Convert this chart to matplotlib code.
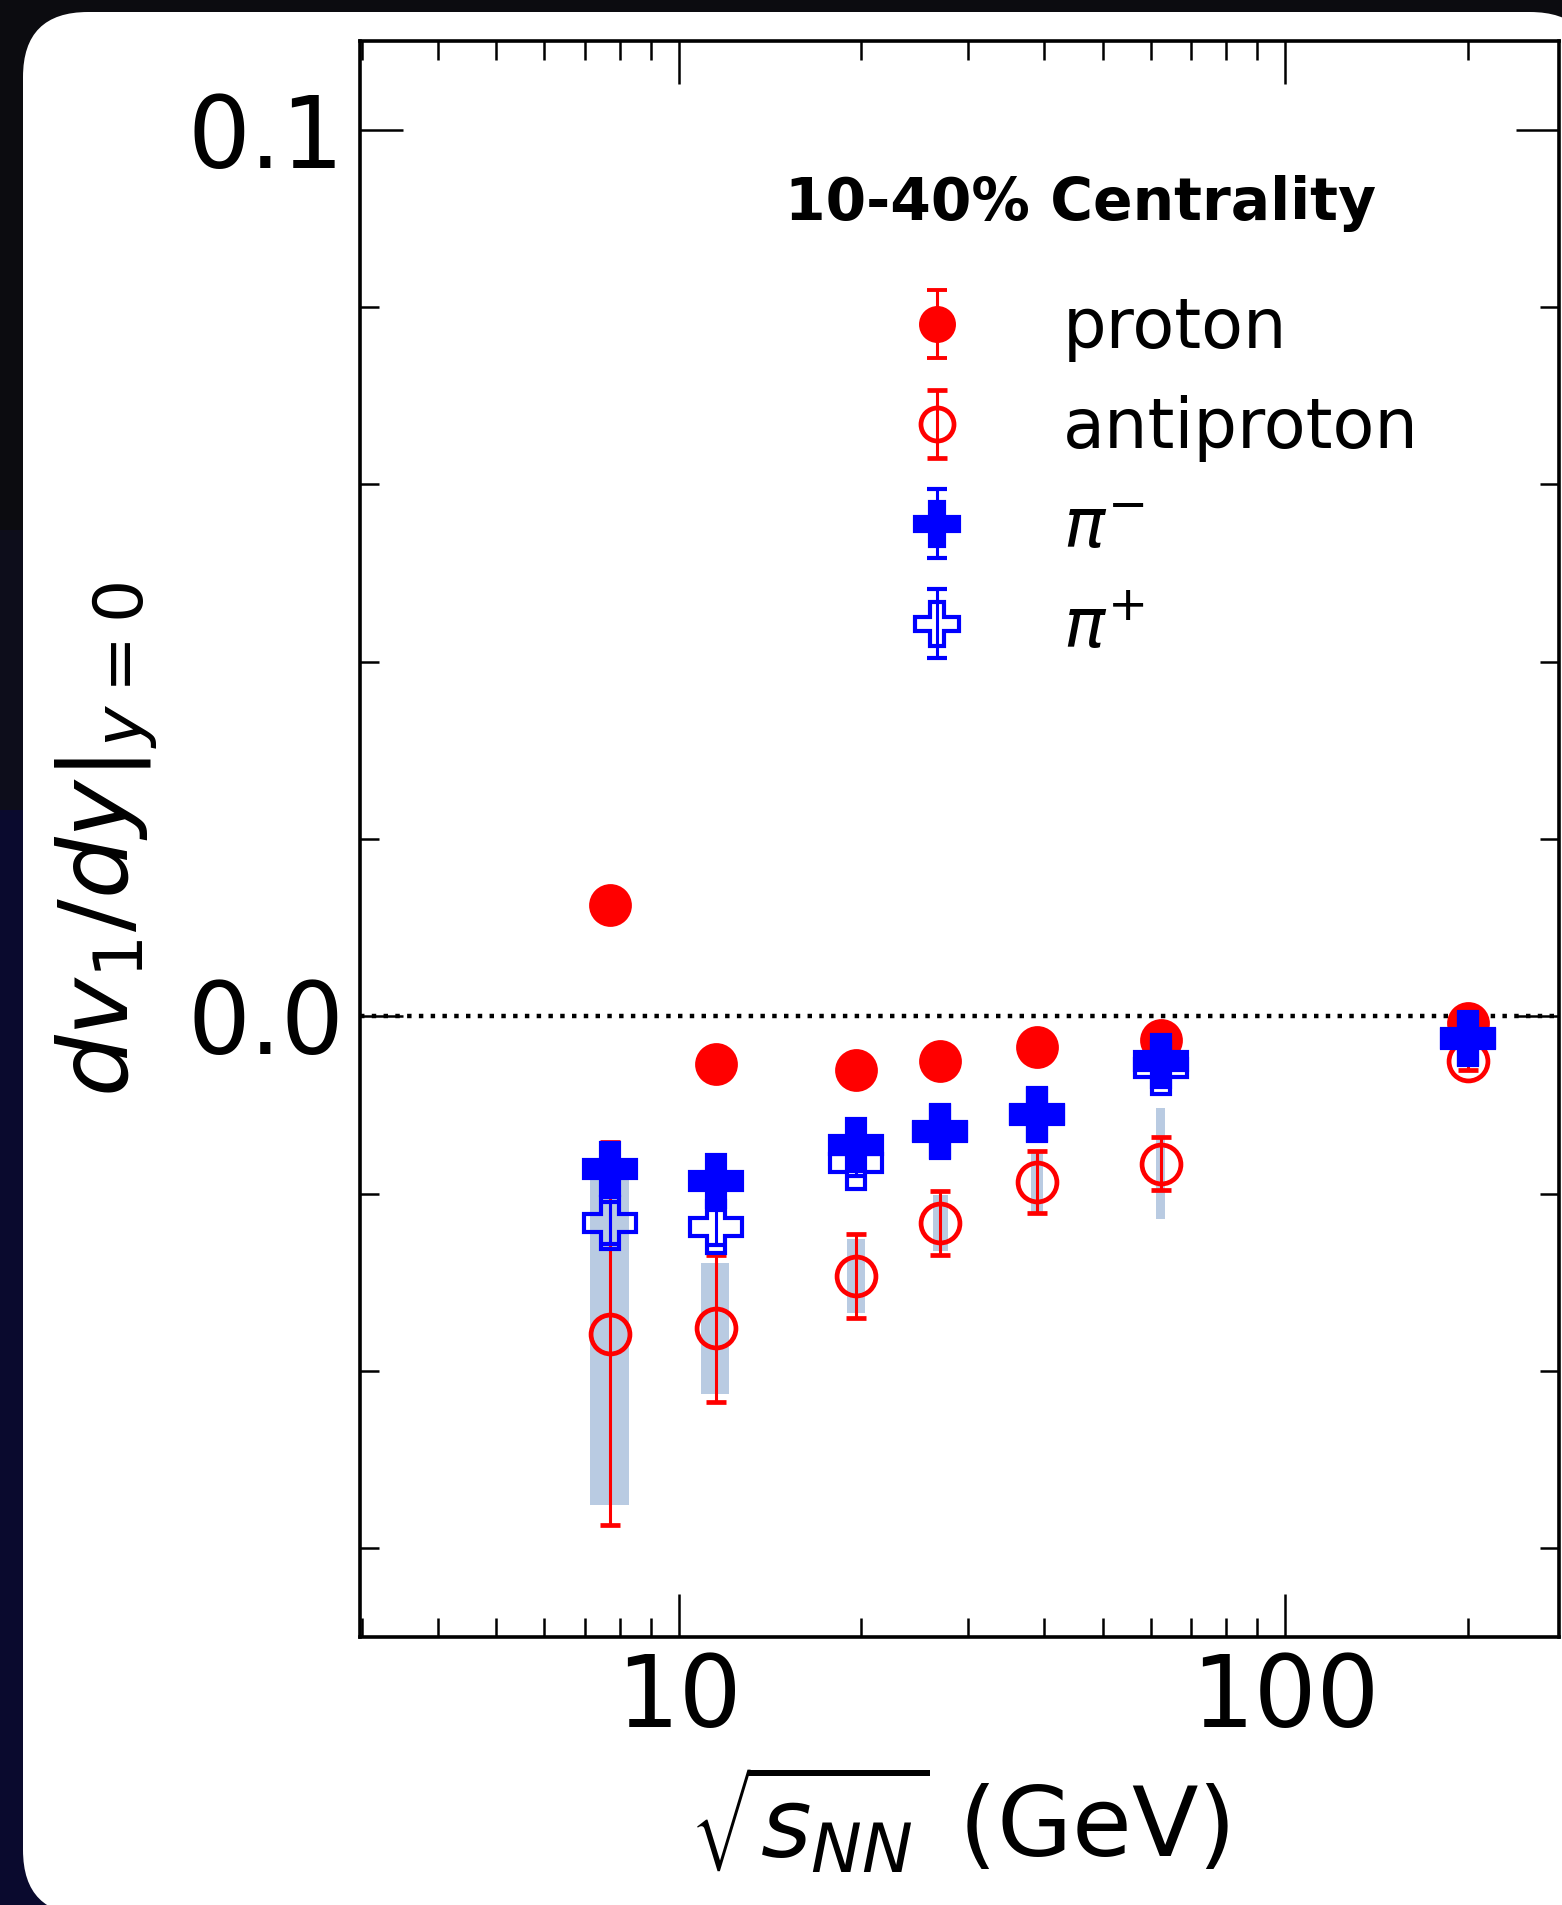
import matplotlib
matplotlib.use("Agg")
import matplotlib.pyplot as plt
import numpy as np
from matplotlib.patches import FancyBboxPatch, Rectangle
from matplotlib.ticker import FuncFormatter, LogLocator, MultipleLocator, NullFormatter
from matplotlib.transforms import IdentityTransform

# DATA
# -----------------------------------------------
energy = [7.7, 11.5, 19.6, 27, 39, 62.4, 200]

proton = [0.0126, -0.0054, -0.0060, -0.0050, -0.0035, -0.0027, -0.0008]
proton_err = [0.0010, 0.0006, 0.0004, 0.0003, 0.0003, 0.0003, 0.0002]

antiproton = [-0.0358, -0.0352, -0.0293, -0.0233, -0.0187, -0.0166, -0.0050]
antiproton_err = [0.0216, 0.0083, 0.0047, 0.0036, 0.0035, 0.0030, 0.0010]
antiproton_sys_lo = [0.0193, 0.0074, 0.0042, 0.0032, 0.0034, 0.0063, 0.0005]
antiproton_sys_hi = [0.0173, 0.0074, 0.0042, 0.0032, 0.0034, 0.0063, 0.0005]
band_width = [1.15, 1.2, 1.35, 1.5, 1.7, 2.1, 4.6]

pion_minus = [-0.0172, -0.0186, -0.0145, -0.0129, -0.0110, -0.0050, -0.0024]
pion_minus_err = [0.0020, 0.0018, 0.0014, 0.0012, 0.0011, 0.0010, 0.0004]

pion_plus = [-0.0233, -0.0238, -0.0165, -0.0131, -0.0111, -0.0058, -0.0025]
pion_plus_err = [0.0024, 0.0020, 0.0015, 0.0012, 0.0011, 0.0010, 0.0004]

labels = ["proton", "antiproton", r"$\pi^{-}$", r"$\pi^{+}$"]
legend_title = "10-40% Centrality"

# FIGURE
# -----------------------------------------------
W, H, DPI = 1562, 1905, 200
fig = plt.figure(figsize=(W / DPI, H / DPI), dpi=DPI)
fig.patch.set_facecolor("#0c0c10")

# dark screenshot background + white rounded card
fig.patches.append(Rectangle((0, 0), 1, 0.575, transform=fig.transFigure,
                             facecolor="#0a0a2e", edgecolor="none", zorder=-10))
fig.patches.append(Rectangle((0, 0.575), 1, 0.147, transform=fig.transFigure,
                             facecolor="#0d0d1b", edgecolor="none", zorder=-10))
fig.patches.append(FancyBboxPatch((23, -10), 1572, 1903,
                                  boxstyle="round,pad=0,rounding_size=65",
                                  transform=IdentityTransform(),
                                  facecolor="white", edgecolor="none", zorder=-5))

ax = fig.add_axes([360 / W, 1 - 1637 / H, 1199 / W, 1596 / H])
ax.set_facecolor("none")
ax.set_xscale("log")
ax.set_xlim(2.98, 283)
ax.set_ylim(-0.07, 0.11)

# systematic bands (antiproton)
lo = np.array(antiproton_sys_lo)
hi = np.array(antiproton_sys_hi)
ax.bar(energy, lo + hi, bottom=np.array(antiproton) - lo, width=band_width,
       color="#b9cbe2", edgecolor="none", zorder=1)

ax.axhline(0, color="black", linestyle=":", linewidth=1.6, zorder=1.5)

ebkw = dict(linestyle="none", elinewidth=1.1, capsize=3.5)

h_p = ax.errorbar(energy, proton, yerr=proton_err, fmt="o", color="red",
                  markersize=14, markeredgewidth=1.4, zorder=3, **ebkw)
h_ap = ax.errorbar(energy, antiproton, yerr=antiproton_err, fmt="o", color="red",
                   markerfacecolor="none", markersize=14, markeredgewidth=1.7,
                   zorder=4, **ebkw)
h_pp = ax.errorbar(energy, pion_plus, yerr=pion_plus_err, fmt="P", color="blue",
                   markerfacecolor="none", markersize=18.5, markeredgewidth=1.5,
                   zorder=5, **ebkw)
h_pm = ax.errorbar(energy, pion_minus, yerr=pion_minus_err, fmt="P", color="blue",
                   markersize=18.5, markeredgewidth=1.5, zorder=6, **ebkw)

# AXES STYLE
# -----------------------------------------------
for s in ax.spines.values():
    s.set_linewidth(1.3)

ax.xaxis.set_major_locator(LogLocator(base=10))
ax.xaxis.set_minor_locator(LogLocator(base=10, subs=np.arange(2, 10)))
ax.xaxis.set_minor_formatter(NullFormatter())
ax.xaxis.set_major_formatter(FuncFormatter(lambda v, p: f"{v:g}"))

ax.yaxis.set_major_locator(MultipleLocator(0.1))
ax.yaxis.set_minor_locator(MultipleLocator(0.02))
ax.yaxis.set_major_formatter(FuncFormatter(lambda v, p: f"{abs(v) if abs(v) < 1e-9 else v:.1f}"))

ax.tick_params(which="both", direction="in", top=True, right=True, width=0.9)
ax.tick_params(which="major", length=15.5, labelsize=35.5)
ax.tick_params(which="minor", length=7)
ax.tick_params(axis="y", which="major", pad=5.5)
ax.tick_params(axis="x", which="major", pad=5)

ax.set_xlabel(r"$\sqrt{s_{NN}}$ (GeV)", fontsize=35, labelpad=6)
ax.set_ylabel(r"$dv_1/dy|_{y=0}$", fontsize=35, labelpad=10)

# LEGEND
# -----------------------------------------------
ax.text(0.3545, 0.8878, legend_title, transform=ax.transAxes, fontsize=21,
        fontweight="bold", va="baseline", ha="left")
ax.legend([h_p, h_ap, h_pm, h_pp], labels, loc="upper left",
          bbox_to_anchor=(0.4187, 0.8409), frameon=False, fontsize=24.7,
          borderpad=0, borderaxespad=0, labelspacing=0.48, markerscale=0.85,
          handlelength=2.2, handletextpad=0.73)

fig.savefig("out.png", dpi=DPI, facecolor=fig.get_facecolor())
